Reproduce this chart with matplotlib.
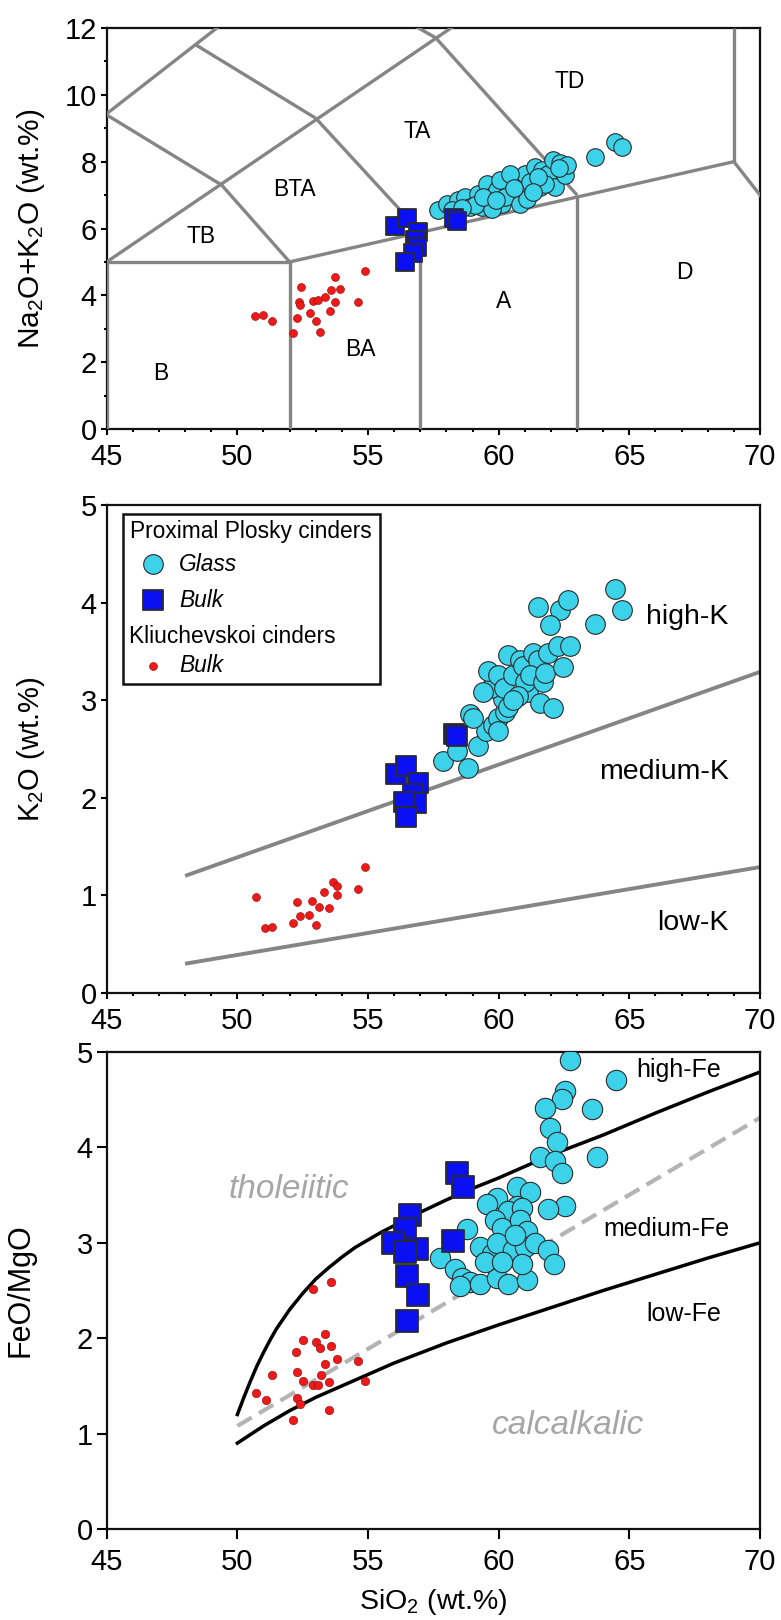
import matplotlib
matplotlib.use("Agg")
import matplotlib.pyplot as plt
from matplotlib.patches import Rectangle
from matplotlib.ticker import MultipleLocator

plt.rcParams['font.family'] = ['Liberation Sans', 'DejaVu Sans']
plt.rcParams['mathtext.default'] = 'regular'

# ---- TAS panel (SiO2 vs Na2O+K2O) ----
tas_lines = [  # Le Bas et al. field boundaries (x1, y1, x2, y2)
    (45, 0, 45, 5), (45, 5, 52, 5), (52, 5, 69, 8), (52, 0, 52, 5),
    (57, 0, 57, 5.9), (63, 0, 63, 7), (69, 8, 69, 12), (69, 8, 77, 0),
    (45, 5, 61, 13.5), (41, 7, 52.5, 14), (45, 9.4, 49.4, 7.3),
    (49.4, 7.3, 52, 5), (48.4, 11.5, 53, 9.3), (53, 9.3, 57, 5.9),
    (52.5, 14, 57.6, 11.7), (57.6, 11.7, 63, 7),
]
tas_names = ['TD', 'TA', 'BTA', 'TB', 'B', 'BA', 'A', 'D']
tas_name_x = [62.7, 56.9, 52.2, 48.6, 47.05, 54.7, 60.2, 67.1]
tas_name_y = [10.4, 8.9, 7.16, 5.75, 1.67, 2.37, 3.83, 4.67]

tas_red_sio2 = [50.68, 51.0, 51.33, 52.14, 52.29, 52.37, 52.45, 52.78, 52.91, 53.02,
                53.16, 53.34, 53.54, 53.6, 53.73, 53.92, 53.73, 54.6, 54.9, 52.4, 53.1]
tas_red_alk = [3.39, 3.42, 3.22, 2.86, 3.32, 3.79, 4.26, 3.46, 3.82, 3.22,
               2.89, 3.96, 3.54, 4.16, 4.54, 4.19, 3.79, 3.81, 4.74, 3.7, 3.85]

tas_glass_sio2 = [57.66, 58.04, 58.43, 58.71, 58.9, 59.19, 59.38, 59.57, 59.67, 59.95,
                  60.14, 60.34, 60.53, 60.72, 60.91, 61.0, 61.2, 61.39, 61.58, 61.67,
                  61.87, 62.06, 62.15, 62.35, 62.53, 62.63, 60.05, 60.24, 60.82, 61.1,
                  59.76, 59.1, 63.68, 64.45, 64.73, 61.77, 61.49, 60.43, 58.2, 58.6,
                  59.4, 59.9, 60.6, 61.3, 62.3]
tas_glass_alk = [6.54, 6.74, 6.84, 6.94, 6.64, 7.04, 6.64, 7.34, 6.94, 7.14,
                 6.74, 7.29, 7.04, 7.44, 7.04, 7.64, 7.39, 7.84, 7.24, 7.74,
                 7.64, 8.05, 7.24, 7.95, 7.60, 7.90, 7.44, 6.94, 6.74, 6.89,
                 6.59, 6.69, 8.15, 8.60, 8.45, 7.34, 7.54, 7.64, 6.55, 6.6,
                 6.95, 6.85, 7.2, 7.1, 7.8]

tas_bulk_sio2 = [56.04, 56.49, 56.93, 56.80, 56.86, 56.73, 56.42, 58.3, 58.4]
tas_bulk_alk = [6.06, 6.31, 5.91, 5.66, 5.46, 5.27, 5.01, 6.3, 6.21]

# ---- K2O panel ----
k_high_sio2 = [48, 70]
k_high_k2o = [1.2, 3.29]
k_low_sio2 = [48, 70]
k_low_k2o = [0.3, 1.29]

k_red_sio2 = [50.72, 51.04, 51.33, 52.13, 52.28, 52.38, 52.76, 52.85, 53.01, 53.14,
              53.33, 53.52, 53.65, 53.8, 53.8, 54.6, 54.9]
k_red_k2o = [0.98, 0.67, 0.68, 0.72, 0.93, 0.79, 0.80, 0.94, 0.70, 0.885,
             1.03, 0.87, 1.14, 1.10, 1.0, 1.07, 1.29]

k_glass_sio2 = [57.87, 58.4, 58.83, 58.92, 59.21, 59.5, 59.78, 59.97, 60.26, 60.17,
                59.69, 59.59, 59.97, 60.36, 60.2, 60.54, 60.83, 60.92, 61.11, 61.3,
                61.5, 61.02, 60.73, 61.21, 61.69, 61.6, 61.78, 61.88, 62.07, 62.26,
                62.45, 62.73, 62.36, 62.64, 61.98, 61.5, 63.68, 64.44, 64.73, 60.36,
                59.39, 60.54, 59.02, 59.97]
k_glass_k2o = [2.38, 2.48, 2.31, 2.86, 2.53, 2.68, 2.75, 2.82, 2.88, 3.01,
               3.12, 3.30, 3.26, 3.46, 3.12, 3.26, 3.41, 3.35, 3.08, 3.48,
               3.41, 3.19, 3.04, 3.26, 3.19, 2.97, 3.28, 3.48, 2.92, 3.56,
               3.34, 3.56, 3.92, 4.03, 3.77, 3.96, 3.78, 4.14, 3.92, 2.93,
               3.08, 3.0, 2.82, 2.68]

k_bulk_sio2 = [56.06, 56.45, 56.92, 56.73, 56.82, 56.39, 56.45, 58.3, 58.4]
k_bulk_k2o = [2.24, 2.33, 2.15, 2.04, 1.95, 1.96, 1.80, 2.65, 2.63]

# ---- FeO/MgO panel ----
fe_high_sio2 = [50, 50.25, 50.5, 50.75, 51, 51.25, 51.5, 52, 52.5, 53, 53.5, 54,
                54.5, 55, 55.5, 56, 57, 58, 59, 60, 62, 64, 66, 68, 70]
fe_high_ratio = [1.20, 1.38, 1.55, 1.71, 1.85, 1.98, 2.10, 2.30, 2.47, 2.62, 2.74,
                 2.85, 2.95, 3.03, 3.11, 3.18, 3.32, 3.45, 3.57, 3.68, 3.92, 4.13,
                 4.36, 4.58, 4.79]
fe_low_sio2 = [50, 50.5, 51, 51.5, 52, 53, 54, 55, 56, 58, 60, 62, 64, 66, 68, 70]
fe_low_ratio = [0.90, 0.99, 1.08, 1.16, 1.24, 1.38, 1.50, 1.62, 1.74, 1.95, 2.14,
                2.32, 2.50, 2.67, 2.84, 3.00]
fe_mid_sio2 = [50, 70]
fe_mid_ratio = [1.08, 4.31]

fe_red_sio2 = [50.72, 51.1, 51.33, 52.13, 52.26, 52.3, 52.3, 52.4, 52.5, 52.5,
               52.9, 52.9, 53.0, 53.15, 53.2, 53.35, 53.35, 53.5, 53.5, 53.6,
               53.6, 53.8, 54.6, 54.9, 53.1]
fe_red_ratio = [1.43, 1.35, 1.61, 1.14, 1.86, 1.65, 1.37, 1.31, 1.98, 1.55,
                2.52, 1.51, 1.96, 1.90, 1.61, 2.04, 1.73, 1.54, 1.25, 2.59,
                1.92, 1.78, 1.76, 1.55, 1.51]

fe_glass_sio2 = [62.73, 64.48, 62.53, 62.44, 61.77, 63.59, 61.96, 62.25, 61.58, 63.78,
                 62.15, 62.44, 62.53, 61.87, 60.72, 61.2, 59.95, 59.57, 60.72, 60.34,
                 60.91, 59.86, 60.14, 60.82, 61.1, 58.8, 59.29, 59.76, 59.95, 60.53,
                 61.0, 61.39, 61.87, 62.1, 57.75, 58.33, 58.61, 58.9, 58.52, 59.29,
                 59.95, 60.34, 61.1, 60.91, 59.48, 60.14, 60.63]
fe_glass_ratio = [4.92, 4.71, 4.59, 4.51, 4.41, 4.40, 4.20, 4.06, 3.90, 3.90,
                  3.86, 3.73, 3.39, 3.35, 3.59, 3.53, 3.47, 3.41, 3.39, 3.33,
                  3.37, 3.24, 3.16, 3.24, 3.12, 3.14, 2.96, 2.88, 3.0, 2.92,
                  2.96, 3.0, 2.92, 2.78, 2.84, 2.73, 2.63, 2.59, 2.55, 2.57,
                  2.63, 2.57, 2.61, 2.78, 2.80, 2.80, 3.08]

fe_bulk_sio2 = [58.42, 58.62, 58.24, 56.62, 56.43, 55.95, 56.86, 56.43, 56.49, 56.91, 56.49]
fe_bulk_ratio = [3.73, 3.58, 3.02, 3.29, 3.14, 3.0, 2.94, 2.90, 2.65, 2.45, 2.18]

GLASS = '#3bd2ea'
BULK = '#0b10f2'
RED = '#ee1a1a'
EDGE = '#2b2b2b'
GREY = '#858585'
TICKFS = 21

fig = plt.figure(figsize=(7.81, 16.2), dpi=100)
L, W = 106.7 / 781, 653.3 / 781
ax1 = fig.add_axes([L, 1 - 429 / 1620, W, 401 / 1620])
ax2 = fig.add_axes([L, 1 - 993 / 1620, W, 488 / 1620])
ax3 = fig.add_axes([L, 1 - 1529 / 1620, W, 477 / 1620])


def style(ax, ymax, ystep, yminor, xminor, ticklen, xpad):
    ax.set_xlim(45, 70)
    ax.set_ylim(0, ymax)
    ax.xaxis.set_major_locator(MultipleLocator(5))
    ax.yaxis.set_major_locator(MultipleLocator(ystep))
    if xminor:
        ax.xaxis.set_minor_locator(MultipleLocator(1))
    if yminor:
        ax.yaxis.set_minor_locator(MultipleLocator(yminor))
    ax.tick_params(which='major', direction='out', length=ticklen, width=1.5,
                   labelsize=TICKFS, top=False, right=False)
    ax.tick_params(axis='x', which='major', pad=xpad)
    ax.tick_params(axis='y', which='major', pad=3)
    ax.tick_params(which='minor', direction='out', length=2.5, width=1.5,
                   top=False, right=False)
    for s in ax.spines.values():
        s.set_linewidth(1.6)
        s.set_color('#111111')


# TAS
style(ax1, 12, 2, 1, True, 4, 6)
for x1, y1, x2, y2 in tas_lines:
    ax1.plot([x1, x2], [y1, y2], color=GREY, lw=2.4, solid_capstyle='butt', zorder=2.6)
for name, x, y in zip(tas_names, tas_name_x, tas_name_y):
    ax1.text(x, y, name, fontsize=16.5, ha='center', va='center')
ax1.scatter(tas_red_sio2, tas_red_alk, s=33, c=RED, edgecolors='#8a0a0a', linewidths=0.4, zorder=4)
ax1.scatter(tas_glass_sio2, tas_glass_alk, s=160, c=GLASS, edgecolors=EDGE, linewidths=0.8, zorder=4)
ax1.scatter(tas_bulk_sio2, tas_bulk_alk, s=170, marker='s', c=BULK, edgecolors=EDGE, linewidths=1.3, zorder=5)
ax1.set_ylabel('Na$_2$O+K$_2$O (wt.%)', fontsize=21.5)
ax1.yaxis.set_label_coords(-0.092, 0.5)

# K2O
style(ax2, 5, 1, None, True, 4, 6)
ax2.plot(k_high_sio2, k_high_k2o, color=GREY, lw=2.8, solid_capstyle='butt')
ax2.plot(k_low_sio2, k_low_k2o, color=GREY, lw=2.8, solid_capstyle='butt')
ax2.text(68.8, 3.85, 'high-K', fontsize=20.5, ha='right', va='center')
ax2.text(68.8, 2.26, 'medium-K', fontsize=20.5, ha='right', va='center')
ax2.text(68.8, 0.72, 'low-K', fontsize=20.5, ha='right', va='center')
ax2.scatter(k_red_sio2, k_red_k2o, s=33, c=RED, edgecolors='#8a0a0a', linewidths=0.4, zorder=4)
ax2.scatter(k_glass_sio2, k_glass_k2o, s=200, c=GLASS, edgecolors=EDGE, linewidths=0.8, zorder=4)
ax2.scatter(k_bulk_sio2, k_bulk_k2o, s=227, marker='s', c=BULK, edgecolors=EDGE, linewidths=1.3, zorder=5)
ax2.set_ylabel('K$_2$O (wt.%)', fontsize=21)
ax2.yaxis.set_label_coords(-0.092, 0.5)

# legend box drawn by hand
ax2.add_patch(Rectangle((0.0245, 0.633), 0.3935, 0.3486, transform=ax2.transAxes,
                        fill=False, lw=1.8, ec='#111111', zorder=6))
ax2.text(0.036, 0.945, 'Proximal Plosky cinders', transform=ax2.transAxes,
         fontsize=16.4, va='center', zorder=7)
ax2.scatter([0.0704], [0.879], s=200, c=GLASS, edgecolors=EDGE, linewidths=0.8,
            transform=ax2.transAxes, zorder=7, clip_on=False)
ax2.text(0.111, 0.879, 'Glass', transform=ax2.transAxes, fontsize=16.4,
         style='italic', va='center', zorder=7)
ax2.scatter([0.0704], [0.805], s=227, marker='s', c=BULK, edgecolors=EDGE, linewidths=1.3,
            transform=ax2.transAxes, zorder=7, clip_on=False)
ax2.text(0.111, 0.805, 'Bulk', transform=ax2.transAxes, fontsize=16.4,
         style='italic', va='center', zorder=7)
ax2.text(0.034, 0.730, 'Kliuchevskoi cinders', transform=ax2.transAxes,
         fontsize=16.4, va='center', zorder=7)
ax2.scatter([0.0704], [0.671], s=33, c=RED, edgecolors='#8a0a0a', linewidths=0.4,
            transform=ax2.transAxes, zorder=7, clip_on=False)
ax2.text(0.111, 0.671, 'Bulk', transform=ax2.transAxes, fontsize=16.4,
         style='italic', va='center', zorder=7)

# FeO/MgO
style(ax3, 5, 1, None, False, 7, 7)
ax3.plot(fe_high_sio2, fe_high_ratio, color='black', lw=2.5, solid_joinstyle='round')
ax3.plot(fe_low_sio2, fe_low_ratio, color='black', lw=2.5, solid_joinstyle='round')
ax3.plot(fe_mid_sio2, fe_mid_ratio, color='#b4b4b4', lw=3, dashes=(4, 2))
ax3.text(66.9, 4.81, 'high-Fe', fontsize=18, ha='center', va='center')
ax3.text(66.4, 3.14, 'medium-Fe', fontsize=18, ha='center', va='center')
ax3.text(67.1, 2.25, 'low-Fe', fontsize=18, ha='center', va='center')
ax3.text(51.95, 3.56, 'tholeiitic', fontsize=24, color='#a6a6a6', style='italic',
         ha='center', va='center')
ax3.text(62.64, 1.08, 'calcalkalic', fontsize=24, color='#a6a6a6', style='italic',
         ha='center', va='center')
ax3.scatter(fe_red_sio2, fe_red_ratio, s=37, c=RED, edgecolors='#8a0a0a', linewidths=0.4, zorder=4)
ax3.scatter(fe_glass_sio2, fe_glass_ratio, s=215, c=GLASS, edgecolors=EDGE, linewidths=0.8, zorder=4)
ax3.scatter(fe_bulk_sio2, fe_bulk_ratio, s=250, marker='s', c=BULK, edgecolors=EDGE, linewidths=1.3, zorder=5)
ax3.set_ylabel('FeO/MgO', fontsize=22)
ax3.yaxis.set_label_coords(-0.109, 0.5)
ax3.set_xlabel('SiO$_2$ (wt.%)', fontsize=20.5)
ax3.xaxis.set_label_coords(0.5, -0.121)

fig.savefig('out.png', dpi=100)
